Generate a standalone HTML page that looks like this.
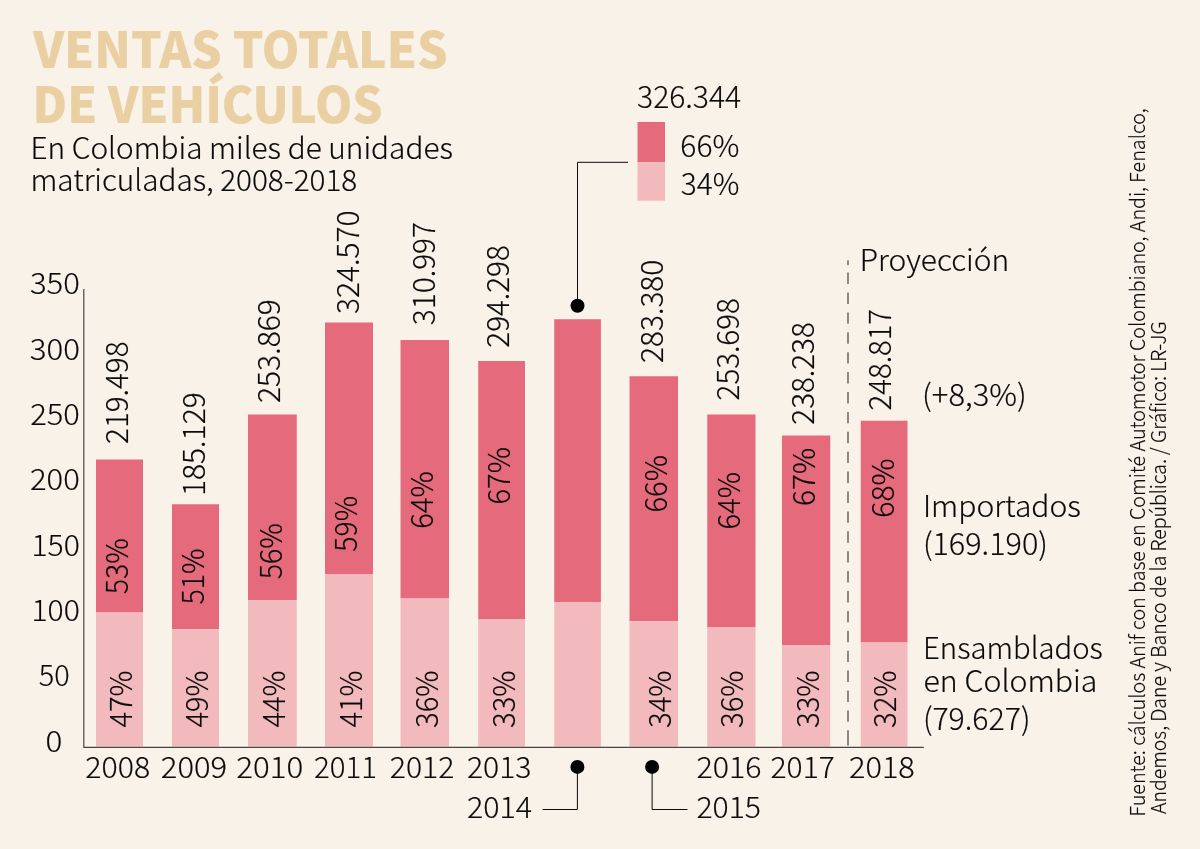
<!DOCTYPE html>
<html lang="es"><head><meta charset="utf-8"><title>Ventas totales de vehículos</title>
<style>
html,body{margin:0;padding:0;background:#f8f2e8;}
body{width:1200px;height:849px;overflow:hidden;}
svg{display:block;font-family:'Noto Sans CJK SC','Liberation Sans',sans-serif;}
</style></head><body>
<svg width="1200" height="849" viewBox="0 0 1200 849">
<rect width="1200" height="849" fill="#f8f2e8"/>
<g>
<rect x="96" y="459.5" width="47" height="153" fill="#e56b7c"/>
<rect x="96" y="612.5" width="47" height="134.1" fill="#f2babd"/>
<rect x="172" y="504.25" width="47" height="125" fill="#e56b7c"/>
<rect x="172" y="629.25" width="47" height="117.35" fill="#f2babd"/>
<rect x="248" y="414.5" width="48.75" height="185.5" fill="#e56b7c"/>
<rect x="248" y="600" width="48.75" height="146.6" fill="#f2babd"/>
<rect x="325" y="322.5" width="48" height="252" fill="#e56b7c"/>
<rect x="325" y="574.5" width="48" height="172.1" fill="#f2babd"/>
<rect x="400.5" y="340" width="48.5" height="258.5" fill="#e56b7c"/>
<rect x="400.5" y="598.5" width="48.5" height="148.1" fill="#f2babd"/>
<rect x="478.25" y="361" width="46.75" height="258.5" fill="#e56b7c"/>
<rect x="478.25" y="619.5" width="46.75" height="127.1" fill="#f2babd"/>
<rect x="554.25" y="319.25" width="46.65" height="282.75" fill="#e56b7c"/>
<rect x="554.25" y="602" width="46.65" height="144.6" fill="#f2babd"/>
<rect x="629.5" y="376.25" width="48.5" height="245" fill="#e56b7c"/>
<rect x="629.5" y="621.25" width="48.5" height="125.35" fill="#f2babd"/>
<rect x="707.25" y="414.5" width="48.25" height="213" fill="#e56b7c"/>
<rect x="707.25" y="627.5" width="48.25" height="119.1" fill="#f2babd"/>
<rect x="782" y="435.5" width="48.25" height="209.5" fill="#e56b7c"/>
<rect x="782" y="645" width="48.25" height="101.6" fill="#f2babd"/>
<rect x="860.75" y="420.75" width="46.75" height="221.75" fill="#e56b7c"/>
<rect x="860.75" y="642.5" width="46.75" height="104.1" fill="#f2babd"/>
<rect x="637.5" y="122" width="27.5" height="40.2" fill="#e56b7c"/>
<rect x="637.5" y="162.2" width="27.5" height="38.5" fill="#f2babd"/>
<path d="M83.8 289V747.3H923.8" fill="none" stroke="#4a4444" stroke-width="1.2"/>
<path d="M848 260.3V265.2M848 272.6V742M848 741V745.6" fill="none" stroke="#7a7672" stroke-width="1.7" stroke-dasharray="11.4 8.5"/>
<path d="M628 162.3H577.5V305" fill="none" stroke="#0a0a0a" stroke-width="1"/>
<circle cx="577.5" cy="305.75" r="7" fill="#000"/>
<circle cx="577.4" cy="766.9" r="7" fill="#000"/>
<circle cx="652.1" cy="766.9" r="7" fill="#000"/>
<path d="M577.4 767V809.5H542.6" fill="none" stroke="#0a0a0a" stroke-width="1"/>
<path d="M652.1 767V809.5H687.5" fill="none" stroke="#0a0a0a" stroke-width="1"/>
</g>
<g stroke-width="0.18">
<text x="33.25" y="67.5" font-size="49.2" font-weight="900" fill="#e9cfa2" stroke="#e9cfa2" textLength="414.42" lengthAdjust="spacingAndGlyphs">VENTAS TOTALES</text>
<text x="32.54" y="122.5" font-size="49.2" font-weight="900" fill="#e9cfa2" stroke="#e9cfa2" textLength="350.12" lengthAdjust="spacingAndGlyphs">DE VEHÍCULOS</text>
<text x="30.46" y="158.75" font-size="29.62" font-weight="300" fill="#0a0a0a" stroke="#0a0a0a" textLength="422.44" lengthAdjust="spacingAndGlyphs">En Colombia miles de unidades</text>
<text x="30.46" y="191.25" font-size="29.57" font-weight="300" fill="#0a0a0a" stroke="#0a0a0a" textLength="326.83" lengthAdjust="spacingAndGlyphs">matriculadas, 2008-2018</text>
<text x="45.53" y="751.75" font-size="29.91" font-weight="300" fill="#0a0a0a" stroke="#0a0a0a" textLength="16.81" lengthAdjust="spacingAndGlyphs">0</text>
<text x="38.8" y="686.4" font-size="29.91" font-weight="300" fill="#0a0a0a" stroke="#0a0a0a" textLength="30.91" lengthAdjust="spacingAndGlyphs">50</text>
<text x="31.4" y="621.05" font-size="29.91" font-weight="300" fill="#0a0a0a" stroke="#0a0a0a" textLength="48.38" lengthAdjust="spacingAndGlyphs">100</text>
<text x="31.4" y="555.7" font-size="29.91" font-weight="300" fill="#0a0a0a" stroke="#0a0a0a" textLength="48.38" lengthAdjust="spacingAndGlyphs">150</text>
<text x="30.03" y="490.35" font-size="29.91" font-weight="300" fill="#0a0a0a" stroke="#0a0a0a" textLength="49.79" lengthAdjust="spacingAndGlyphs">200</text>
<text x="30.29" y="425" font-size="29.91" font-weight="300" fill="#0a0a0a" stroke="#0a0a0a" textLength="49.53" lengthAdjust="spacingAndGlyphs">250</text>
<text x="29.78" y="359.65" font-size="29.91" font-weight="300" fill="#0a0a0a" stroke="#0a0a0a" textLength="50.05" lengthAdjust="spacingAndGlyphs">300</text>
<text x="30.03" y="294.3" font-size="29.91" font-weight="300" fill="#0a0a0a" stroke="#0a0a0a" textLength="49.79" lengthAdjust="spacingAndGlyphs">350</text>
<text x="85.25" y="778.4" font-size="29.5" font-weight="300" fill="#0a0a0a" stroke="#0a0a0a" textLength="64.91" lengthAdjust="spacingAndGlyphs">2008</text>
<text x="160.88" y="778.4" font-size="29.5" font-weight="300" fill="#0a0a0a" stroke="#0a0a0a" textLength="66.18" lengthAdjust="spacingAndGlyphs">2009</text>
<text x="236.32" y="778.4" font-size="29.5" font-weight="300" fill="#0a0a0a" stroke="#0a0a0a" textLength="66.96" lengthAdjust="spacingAndGlyphs">2010</text>
<text x="314.08" y="778.4" font-size="29.5" font-weight="300" fill="#0a0a0a" stroke="#0a0a0a" textLength="62.86" lengthAdjust="spacingAndGlyphs">2011</text>
<text x="389.76" y="778.4" font-size="29.5" font-weight="300" fill="#0a0a0a" stroke="#0a0a0a" textLength="64.6" lengthAdjust="spacingAndGlyphs">2012</text>
<text x="466.96" y="778.4" font-size="29.5" font-weight="300" fill="#0a0a0a" stroke="#0a0a0a" textLength="64.57" lengthAdjust="spacingAndGlyphs">2013</text>
<text x="696.45" y="778.4" font-size="29.5" font-weight="300" fill="#0a0a0a" stroke="#0a0a0a" textLength="65.01" lengthAdjust="spacingAndGlyphs">2016</text>
<text x="770.56" y="778.4" font-size="29.5" font-weight="300" fill="#0a0a0a" stroke="#0a0a0a" textLength="64.24" lengthAdjust="spacingAndGlyphs">2017</text>
<text x="849.04" y="778.4" font-size="29.5" font-weight="300" fill="#0a0a0a" stroke="#0a0a0a" textLength="65.79" lengthAdjust="spacingAndGlyphs">2018</text>
<text x="466.95" y="817.6" font-size="29.5" font-weight="300" fill="#0a0a0a" stroke="#0a0a0a" textLength="65.14" lengthAdjust="spacingAndGlyphs">2014</text>
<text x="696.46" y="817.6" font-size="29.5" font-weight="300" fill="#0a0a0a" stroke="#0a0a0a" textLength="64.57" lengthAdjust="spacingAndGlyphs">2015</text>
<text transform="translate(128 443.93) rotate(-90)" font-size="30.61" font-weight="300" fill="#0a0a0a" stroke="#0a0a0a" textLength="102.46" lengthAdjust="spacingAndGlyphs">219.498</text>
<text transform="translate(204.5 496.1) rotate(-90)" font-size="30.61" font-weight="300" fill="#0a0a0a" stroke="#0a0a0a" textLength="103.86" lengthAdjust="spacingAndGlyphs">185.129</text>
<text transform="translate(279.5 402.94) rotate(-90)" font-size="30.61" font-weight="300" fill="#0a0a0a" stroke="#0a0a0a" textLength="103.7" lengthAdjust="spacingAndGlyphs">253.869</text>
<text transform="translate(358.5 313.93) rotate(-90)" font-size="30.61" font-weight="300" fill="#0a0a0a" stroke="#0a0a0a" textLength="103.45" lengthAdjust="spacingAndGlyphs">324.570</text>
<text transform="translate(435.2 325.18) rotate(-90)" font-size="30.61" font-weight="300" fill="#0a0a0a" stroke="#0a0a0a" textLength="103.23" lengthAdjust="spacingAndGlyphs">310.997</text>
<text transform="translate(509.1 347.68) rotate(-90)" font-size="30.61" font-weight="300" fill="#0a0a0a" stroke="#0a0a0a" textLength="102.46" lengthAdjust="spacingAndGlyphs">294.298</text>
<text transform="translate(662.8 362.93) rotate(-90)" font-size="30.61" font-weight="300" fill="#0a0a0a" stroke="#0a0a0a" textLength="103.19" lengthAdjust="spacingAndGlyphs">283.380</text>
<text transform="translate(738.5 400.42) rotate(-90)" font-size="30.61" font-weight="300" fill="#0a0a0a" stroke="#0a0a0a" textLength="102.21" lengthAdjust="spacingAndGlyphs">253.698</text>
<text transform="translate(813.6 424.68) rotate(-90)" font-size="30.61" font-weight="300" fill="#0a0a0a" stroke="#0a0a0a" textLength="102.46" lengthAdjust="spacingAndGlyphs">238.238</text>
<text transform="translate(891 410.42) rotate(-90)" font-size="30.61" font-weight="300" fill="#0a0a0a" stroke="#0a0a0a" textLength="101.44" lengthAdjust="spacingAndGlyphs">248.817</text>
<text transform="translate(128 594.19) rotate(-90)" font-size="30.61" font-weight="300" fill="#0a0a0a" stroke="#0a0a0a" textLength="56.02" lengthAdjust="spacingAndGlyphs">53%</text>
<text transform="translate(204.3 604.44) rotate(-90)" font-size="30.61" font-weight="300" fill="#0a0a0a" stroke="#0a0a0a" textLength="56.02" lengthAdjust="spacingAndGlyphs">51%</text>
<text transform="translate(281.8 579.19) rotate(-90)" font-size="30.61" font-weight="300" fill="#0a0a0a" stroke="#0a0a0a" textLength="56.02" lengthAdjust="spacingAndGlyphs">56%</text>
<text transform="translate(357.3 551.69) rotate(-90)" font-size="30.61" font-weight="300" fill="#0a0a0a" stroke="#0a0a0a" textLength="55.76" lengthAdjust="spacingAndGlyphs">59%</text>
<text transform="translate(432.8 528.87) rotate(-90)" font-size="30.61" font-weight="300" fill="#0a0a0a" stroke="#0a0a0a" textLength="57.47" lengthAdjust="spacingAndGlyphs">64%</text>
<text transform="translate(510 504.62) rotate(-90)" font-size="30.61" font-weight="300" fill="#0a0a0a" stroke="#0a0a0a" textLength="57.47" lengthAdjust="spacingAndGlyphs">67%</text>
<text transform="translate(666.5 512.62) rotate(-90)" font-size="30.61" font-weight="300" fill="#0a0a0a" stroke="#0a0a0a" textLength="57.47" lengthAdjust="spacingAndGlyphs">66%</text>
<text transform="translate(740.3 529.62) rotate(-90)" font-size="30.61" font-weight="300" fill="#0a0a0a" stroke="#0a0a0a" textLength="57.47" lengthAdjust="spacingAndGlyphs">64%</text>
<text transform="translate(815 505.89) rotate(-90)" font-size="30.61" font-weight="300" fill="#0a0a0a" stroke="#0a0a0a" textLength="58.25" lengthAdjust="spacingAndGlyphs">67%</text>
<text transform="translate(893.5 517.66) rotate(-90)" font-size="30.61" font-weight="300" fill="#0a0a0a" stroke="#0a0a0a" textLength="59.3" lengthAdjust="spacingAndGlyphs">68%</text>
<text transform="translate(132.3 727.45) rotate(-90)" font-size="30.61" font-weight="300" fill="#0a0a0a" stroke="#0a0a0a" textLength="57.04" lengthAdjust="spacingAndGlyphs">47%</text>
<text transform="translate(208.1 727.45) rotate(-90)" font-size="30.61" font-weight="300" fill="#0a0a0a" stroke="#0a0a0a" textLength="57.04" lengthAdjust="spacingAndGlyphs">49%</text>
<text transform="translate(284.8 727.45) rotate(-90)" font-size="30.61" font-weight="300" fill="#0a0a0a" stroke="#0a0a0a" textLength="57.04" lengthAdjust="spacingAndGlyphs">44%</text>
<text transform="translate(361.8 727.45) rotate(-90)" font-size="30.61" font-weight="300" fill="#0a0a0a" stroke="#0a0a0a" textLength="57.04" lengthAdjust="spacingAndGlyphs">41%</text>
<text transform="translate(437.8 727.91) rotate(-90)" font-size="30.61" font-weight="300" fill="#0a0a0a" stroke="#0a0a0a" textLength="57.51" lengthAdjust="spacingAndGlyphs">36%</text>
<text transform="translate(514.8 727.91) rotate(-90)" font-size="30.61" font-weight="300" fill="#0a0a0a" stroke="#0a0a0a" textLength="57.51" lengthAdjust="spacingAndGlyphs">33%</text>
<text transform="translate(670.8 727.91) rotate(-90)" font-size="30.61" font-weight="300" fill="#0a0a0a" stroke="#0a0a0a" textLength="57.51" lengthAdjust="spacingAndGlyphs">34%</text>
<text transform="translate(743.4 727.91) rotate(-90)" font-size="30.61" font-weight="300" fill="#0a0a0a" stroke="#0a0a0a" textLength="57.51" lengthAdjust="spacingAndGlyphs">36%</text>
<text transform="translate(819.3 727.91) rotate(-90)" font-size="30.61" font-weight="300" fill="#0a0a0a" stroke="#0a0a0a" textLength="57.51" lengthAdjust="spacingAndGlyphs">33%</text>
<text transform="translate(896 727.91) rotate(-90)" font-size="30.61" font-weight="300" fill="#0a0a0a" stroke="#0a0a0a" textLength="57.51" lengthAdjust="spacingAndGlyphs">32%</text>
<text x="859.7" y="271.25" font-size="29.62" font-weight="300" fill="#0a0a0a" stroke="#0a0a0a" textLength="149.59" lengthAdjust="spacingAndGlyphs">Proyección</text>
<text x="922.1" y="406.25" font-size="30.26" font-weight="300" fill="#0a0a0a" stroke="#0a0a0a" textLength="104.65" lengthAdjust="spacingAndGlyphs">(+8,3%)</text>
<text x="922.93" y="516.75" font-size="29.62" font-weight="300" fill="#0a0a0a" stroke="#0a0a0a" textLength="157.97" lengthAdjust="spacingAndGlyphs">Importados</text>
<text x="922.88" y="555" font-size="30.61" font-weight="300" fill="#0a0a0a" stroke="#0a0a0a" textLength="125.08" lengthAdjust="spacingAndGlyphs">(169.190)</text>
<text x="923" y="658.75" font-size="29.96" font-weight="300" fill="#0a0a0a" stroke="#0a0a0a" textLength="179.88" lengthAdjust="spacingAndGlyphs">Ensamblados</text>
<text x="923.58" y="691.75" font-size="29.96" font-weight="300" fill="#0a0a0a" stroke="#0a0a0a" textLength="173.79" lengthAdjust="spacingAndGlyphs">en Colombia</text>
<text x="922.91" y="730" font-size="30.61" font-weight="300" fill="#0a0a0a" stroke="#0a0a0a" textLength="107.52" lengthAdjust="spacingAndGlyphs">(79.627)</text>
<text x="637.06" y="107.5" font-size="30.26" font-weight="300" fill="#0a0a0a" stroke="#0a0a0a" textLength="104.02" lengthAdjust="spacingAndGlyphs">326.344</text>
<text x="680.34" y="156.75" font-size="30.26" font-weight="300" fill="#0a0a0a" stroke="#0a0a0a" textLength="59.04" lengthAdjust="spacingAndGlyphs">66%</text>
<text x="680.82" y="195" font-size="30.26" font-weight="300" fill="#0a0a0a" stroke="#0a0a0a" textLength="58.55" lengthAdjust="spacingAndGlyphs">34%</text>
<text transform="translate(1144.8 816.45) rotate(-90)" font-size="20.83" font-weight="300" fill="#0a0a0a" stroke="#0a0a0a" textLength="708.17" lengthAdjust="spacingAndGlyphs">Fuente: cálculos Anif con base en Comité Automotor Colombiano, Andi, Fenalco,</text>
<text transform="translate(1166 814) rotate(-90)" font-size="20.83" font-weight="300" fill="#0a0a0a" stroke="#0a0a0a" textLength="492.64" lengthAdjust="spacingAndGlyphs">Andemos, Dane y Banco de la República. / Gráfico: LR-JG</text>
</g>
</svg>
</body></html>
